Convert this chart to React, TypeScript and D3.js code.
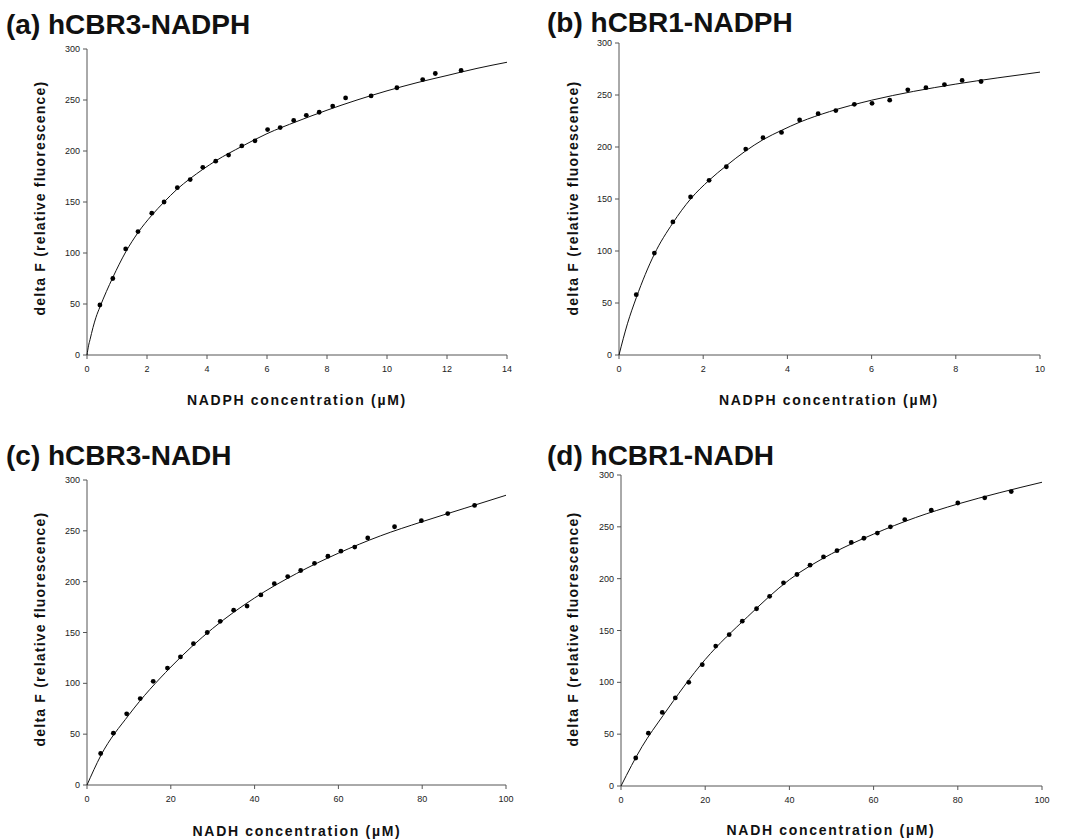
import React from "react";
import * as d3 from "d3";

// ---------- Data ----------
// (a) hCBR3-NADPH
const aX = [0.43, 0.86, 1.29, 1.7, 2.16, 2.57, 3.01, 3.44, 3.86, 4.29, 4.72, 5.16, 5.6, 6.02, 6.44, 6.89, 7.31, 7.74, 8.19, 8.62, 9.47, 10.33, 11.19, 11.61, 12.47];
const aY = [49, 75, 104, 121, 139, 150, 164, 172, 184, 190, 196, 205, 210, 221, 223, 230, 235, 238, 244, 252, 254, 262, 270, 276, 279];
const aFitX = [0, 0.05, 0.1, 0.2, 0.3, 0.43, 0.86, 1.29, 1.7, 2.16, 2.57, 3, 3.44, 3.86, 4.3, 5.16, 6, 7, 8, 9, 10, 11, 12, 13, 14];
const aFitY = [0, 9, 15, 27, 37, 47, 76, 101, 120, 137, 150, 162.5, 173, 182, 190.5, 204.5, 217, 229, 240, 250, 259, 267, 274, 281, 287];

// (b) hCBR1-NADPH
const bX = [0.41, 0.84, 1.28, 1.7, 2.14, 2.55, 3.01, 3.42, 3.86, 4.29, 4.73, 5.15, 5.59, 6.01, 6.43, 6.86, 7.29, 7.73, 8.15, 8.6];
const bY = [58, 98, 128, 152, 168, 181, 198, 209, 214, 226, 232, 235, 241, 242, 245, 255, 257, 260, 264, 263];
const bFitX = [0, 0.2, 0.41, 0.84, 1.28, 1.7, 2.14, 2.55, 3, 3.42, 3.86, 4.3, 5, 6, 7, 8, 9, 10];
const bFitY = [0, 30, 55, 97, 127, 150, 168, 182, 196, 207, 216, 224, 234, 245, 253.5, 260.5, 266.5, 272];

// (c) hCBR3-NADH
const cX = [3.26, 6.29, 9.47, 12.7, 15.8, 19.2, 22.3, 25.4, 28.7, 31.8, 35.0, 38.2, 41.5, 44.7, 47.9, 51.0, 54.3, 57.5, 60.6, 63.9, 67.0, 73.4, 79.8, 86.1, 92.5];
const cY = [31, 51, 70, 85, 102, 115, 126, 139, 150, 161, 172, 176, 187, 198, 205, 211, 218, 225, 230, 234, 243, 254, 260, 267, 275];
const cFitX = [0, 3.3, 10, 20, 30, 40, 50, 60, 70, 80, 90, 100];
const cFitY = [0, 29, 69, 116, 154, 184, 208, 228, 245, 259, 272, 285];

// (d) hCBR1-NADH
const dX = [3.5, 6.5, 9.8, 12.9, 16.1, 19.3, 22.5, 25.7, 28.8, 32.2, 35.3, 38.6, 41.8, 44.9, 48.1, 51.3, 54.7, 57.7, 60.9, 64.0, 67.4, 73.7, 80.0, 86.4, 92.7];
const dY = [27, 51, 71, 85, 100, 117, 135, 146, 159, 171, 183, 196, 204, 213, 221, 227, 235, 239, 244, 250, 257, 266, 273, 278, 284];
const dFitX = [0, 5, 10, 20, 30, 40, 50, 60, 70, 80, 90, 100];
const dFitY = [0, 38, 68, 122, 163, 199, 224, 243, 259, 272, 283, 293];

const titles = ["(a) hCBR3-NADPH", "(b) hCBR1-NADPH", "(c) hCBR3-NADH", "(d) hCBR1-NADH"];
const xLabels = ["NADPH concentration (\u00b5M)", "NADPH concentration (\u00b5M)", "NADH concentration (\u00b5M)", "NADH concentration (\u00b5M)"];
const yLabel = "delta F (relative fluorescence)";
const xMaxes = [14, 10, 100, 100];
const xTickSteps = [2, 2, 20, 20];
const yTicks = [0, 50, 100, 150, 200, 250, 300];

// ---------- Layout ----------
const layouts = [
  { left: 87, right: 507, top: 49, bottom: 355, titleX: 6, titleY: 34, xlabX: 297, xlabY: 405, ylabX: 45, ylabY: 198 },
  { left: 619, right: 1040, top: 43, bottom: 355, titleX: 547, titleY: 32, xlabX: 829, xlabY: 405, ylabX: 578, ylabY: 198 },
  { left: 87, right: 506, top: 480, bottom: 785, titleX: 6, titleY: 465, xlabX: 297, xlabY: 836, ylabX: 45, ylabY: 629 },
  { left: 621, right: 1042, top: 475, bottom: 786, titleX: 547, titleY: 465, xlabX: 831, xlabY: 835, ylabX: 578, ylabY: 629 },
];

const pointsX = [aX, bX, cX, dX];
const pointsY = [aY, bY, cY, dY];
const fitsX = [aFitX, bFitX, cFitX, dFitX];
const fitsY = [aFitY, bFitY, cFitY, dFitY];

const FONT = "Arial, 'Liberation Sans', Helvetica, sans-serif";
const AXIS = "#555";

function Panel({ i }: { i: number }) {
  const L = layouts[i];
  const x = d3.scaleLinear().domain([0, xMaxes[i]]).range([L.left, L.right]);
  const y = d3.scaleLinear().domain([0, 300]).range([L.bottom, L.top]);
  const xTicks = d3.range(0, xMaxes[i] + 0.001, xTickSteps[i]);
  const fit = fitsX[i].map((v, k) => [v, fitsY[i][k]] as [number, number]);
  const line = d3
    .line<[number, number]>()
    .x((d) => x(d[0]))
    .y((d) => y(d[1]))
    .curve(d3.curveMonotoneX);
  return (
    <g>
      <text x={L.titleX} y={L.titleY} fontFamily={FONT} fontWeight="bold" fontSize={28} fill="#111">
        {titles[i]}
      </text>
      {/* axes */}
      <line x1={L.left} x2={L.left} y1={L.top} y2={L.bottom} stroke={AXIS} strokeWidth={1} />
      <line x1={L.left} x2={L.right} y1={L.bottom} y2={L.bottom} stroke={AXIS} strokeWidth={1} />
      {yTicks.map((t) => (
        <g key={"y" + t}>
          <line x1={L.left - 4} x2={L.left} y1={y(t)} y2={y(t)} stroke={AXIS} />
          <text x={L.left - 7} y={y(t)} dy="0.35em" textAnchor="end" fontFamily={FONT} fontSize={9} fill="#222">
            {t}
          </text>
        </g>
      ))}
      {xTicks.map((t) => (
        <g key={"x" + t}>
          <line x1={x(t)} x2={x(t)} y1={L.bottom} y2={L.bottom + 4} stroke={AXIS} />
          <text x={x(t)} y={L.bottom + 17} textAnchor="middle" fontFamily={FONT} fontSize={9} fill="#222">
            {t}
          </text>
        </g>
      ))}
      <text x={L.xlabX} y={L.xlabY} textAnchor="middle" fontFamily={FONT} fontWeight="bold" fontSize={14} letterSpacing={1.7} fill="#111">
        {xLabels[i]}
      </text>
      <text
        transform={`translate(${L.ylabX},${L.ylabY}) rotate(-90)`}
        textAnchor="middle"
        fontFamily={FONT}
        fontWeight="bold"
        fontSize={14}
        letterSpacing={1.2}
        fill="#111"
      >
        {yLabel}
      </text>
      <path d={line(fit) || ""} fill="none" stroke="#111" strokeWidth={1} />
      {pointsX[i].map((v, k) => (
        <circle key={k} cx={x(v)} cy={y(pointsY[i][k])} r={2.4} fill="#000" />
      ))}
    </g>
  );
}

export default function App() {
  return (
    <svg width={1065} height={839} style={{ position: "absolute", left: 0, top: 0, background: "#fff" }}>
      <rect x={0} y={0} width={1065} height={839} fill="#fff" />
      {[0, 1, 2, 3].map((i) => (
        <Panel key={i} i={i} />
      ))}
    </svg>
  );
}
